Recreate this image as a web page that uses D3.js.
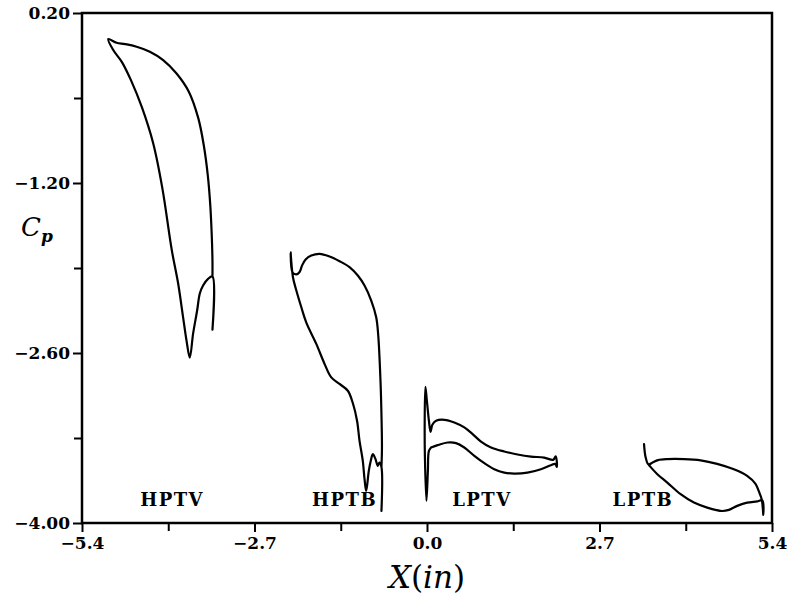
<!DOCTYPE html>
<html>
<head>
<meta charset="utf-8">
<script src="https://cdn.jsdelivr.net/npm/d3@7"></script>
<style>
  body { margin: 0; background: #fff; }
  svg { display: block; }
</style>
</head>
<body>
<svg id="chart" width="791" height="600"></svg>
<script>
// Surface pressure coefficient around each blade row, traced as one closed contour (x in inches, Cp)
const hptvX  = [-3.358,-3.358,-3.427,-3.505,-3.556,-3.598,-3.661,-3.713,-3.764,-3.817,-3.895,-3.994,-4.142,-4.286,-4.463,-4.634,-4.775,-4.911,-4.989,-4.858,-4.728,-4.545,-4.338,-4.130,-3.920,-3.728,-3.580,-3.494,-3.431,-3.392,-3.369,-3.358,-3.358];
const hptvCp = [-2.407,-1.970,-1.989,-2.044,-2.110,-2.250,-2.440,-2.638,-2.498,-2.308,-2.028,-1.755,-1.244,-0.873,-0.576,-0.353,-0.204,-0.105,-0.015,-0.045,-0.056,-0.078,-0.119,-0.188,-0.298,-0.448,-0.666,-0.889,-1.137,-1.384,-1.632,-1.838,-1.970];

const hptbX  = [-0.713,-0.713,-0.744,-0.770,-0.806,-0.848,-0.880,-0.911,-0.952,-0.978,-1.005,-1.056,-1.095,-1.158,-1.239,-1.369,-1.498,-1.603,-1.733,-1.889,-1.967,-2.045,-2.098,-2.134,-2.103,-2.045,-1.994,-1.955,-1.900,-1.811,-1.681,-1.525,-1.369,-1.213,-1.083,-0.978,-0.873,-0.795,-0.763,-0.728,-0.713,-0.705,-0.713];
const hptbCp = [-3.901,-3.538,-3.502,-3.529,-3.474,-3.433,-3.488,-3.571,-3.736,-3.637,-3.488,-3.323,-3.158,-3.018,-2.911,-2.855,-2.801,-2.690,-2.525,-2.350,-2.223,-2.085,-1.976,-1.772,-1.937,-1.953,-1.933,-1.879,-1.830,-1.797,-1.783,-1.805,-1.844,-1.893,-1.962,-2.044,-2.168,-2.306,-2.457,-2.828,-3.103,-3.378,-3.538];

const lptvX  = [0.064,0.167,0.323,0.455,0.584,0.741,0.897,1.053,1.209,1.366,1.573,1.783,1.939,2.006,2.033,2.014,1.975,1.834,1.627,1.417,1.209,1.002,0.845,0.714,0.584,0.428,0.272,0.142,0.084,0.056,0.030,-0.002,-0.025,-0.036,-0.033,-0.009,0.014,0.030,0.064];
const lptvCp = [-3.378,-3.359,-3.337,-3.342,-3.378,-3.447,-3.507,-3.557,-3.585,-3.593,-3.585,-3.557,-3.524,-3.513,-3.538,-3.451,-3.480,-3.461,-3.453,-3.436,-3.411,-3.378,-3.329,-3.268,-3.213,-3.172,-3.150,-3.158,-3.191,-3.249,-3.158,-2.993,-2.878,-3.158,-3.447,-3.818,-3.571,-3.406,-3.378];

const lptbX  = [3.397,3.423,3.467,3.538,3.616,3.761,4.022,4.283,4.542,4.803,5.011,5.142,5.209,5.241,5.264,5.248,5.167,5.011,4.855,4.725,4.620,4.386,4.178,3.970,3.761,3.605,3.498,3.467];
const lptbCp = [-3.350,-3.461,-3.517,-3.500,-3.482,-3.474,-3.474,-3.484,-3.513,-3.558,-3.612,-3.678,-3.760,-3.810,-3.934,-3.814,-3.822,-3.832,-3.859,-3.892,-3.901,-3.873,-3.832,-3.763,-3.667,-3.598,-3.538,-3.517];

// Blade row names and where each name sits (x in inches, Cp of the baseline)
const bladeNames  = ["HPTV", "HPTB", "LPTV", "LPTB"];
const bladeLabelX = [-3.99, -1.29, 0.86, 3.38];
const bladeLabelCp = -3.86;

// Axis ticks
const xTickValues = [-5.4, -2.7, 0.0, 2.7, 5.4];
const xTickLabels = ["\u22125.4", "\u22122.7", "0.0", "2.7", "5.4"];
const xMinorTicks = [-4.05, -1.35, 1.35, 4.05];
const yTickValues = [0.2, -1.2, -2.6, -4.0];
const yTickLabels = ["0.20", "\u22121.20", "\u22122.60", "\u22124.00"];
const yMinorTicks = [-0.5, -1.9, -3.3];

const svg = d3.select("#chart");
const x = d3.scaleLinear().domain([-5.4, 5.4]).range([82, 772]);
const y = d3.scaleLinear().domain([-4.0, 0.2]).range([523, 13]);

const serif = "'DejaVu Serif', serif";

// Minor ticks (unlabelled)
svg.append("g")
  .attr("transform", `translate(0,${y(-4.0)})`)
  .call(d3.axisBottom(x).tickValues(xMinorTicks).tickSize(8).tickFormat(""))
  .call(g => g.select(".domain").remove())
  .selectAll("line").attr("stroke", "#000").attr("stroke-width", 2);
svg.append("g")
  .attr("transform", `translate(${x(-5.4)},0)`)
  .call(d3.axisLeft(y).tickValues(yMinorTicks).tickSize(8).tickFormat(""))
  .call(g => g.select(".domain").remove())
  .selectAll("line").attr("stroke", "#000").attr("stroke-width", 2);

// Major ticks with labels
const xAxis = svg.append("g")
  .attr("transform", `translate(0,${y(-4.0)})`)
  .call(d3.axisBottom(x).tickValues(xTickValues).tickSize(9).tickPadding(5)
        .tickFormat((d, i) => xTickLabels[i]));
xAxis.select(".domain").remove();
xAxis.selectAll("line").attr("stroke", "#000").attr("stroke-width", 2);
xAxis.selectAll("text")
  .attr("fill", "#000")
  .style("font-family", serif).style("font-weight", "bold").style("font-size", "17px");

const yAxis = svg.append("g")
  .attr("transform", `translate(${x(-5.4)},0)`)
  .call(d3.axisLeft(y).tickValues(yTickValues).tickSize(9).tickPadding(3)
        .tickFormat((d, i) => yTickLabels[i]));
yAxis.select(".domain").remove();
yAxis.selectAll("line").attr("stroke", "#000").attr("stroke-width", 2);
yAxis.selectAll("text")
  .attr("fill", "#000")
  .style("font-family", serif).style("font-weight", "bold").style("font-size", "17px");

// Plot frame
svg.append("rect")
  .attr("x", x(-5.4)).attr("y", y(0.2))
  .attr("width", x(5.4) - x(-5.4)).attr("height", y(-4.0) - y(0.2))
  .attr("fill", "none").attr("stroke", "#000").attr("stroke-width", 2.5);

// Cp contours
const blades = [
  { xs: hptvX, cps: hptvCp },
  { xs: hptbX, cps: hptbCp },
  { xs: lptvX, cps: lptvCp },
  { xs: lptbX, cps: lptbCp }
];
const line = d3.line()
  .x(d => x(d[0]))
  .y(d => y(d[1]))
  .curve(d3.curveCatmullRom.alpha(0.5));

svg.append("g").selectAll("path")
  .data(blades)
  .join("path")
  .attr("d", b => line(d3.zip(b.xs, b.cps)))
  .attr("fill", "none")
  .attr("stroke", "#000")
  .attr("stroke-width", 2.2)
  .attr("stroke-linejoin", "round")
  .attr("stroke-linecap", "round");

// Blade row names
svg.append("g").selectAll("text")
  .data(bladeNames)
  .join("text")
  .attr("x", (d, i) => x(bladeLabelX[i]))
  .attr("y", y(bladeLabelCp))
  .attr("text-anchor", "middle")
  .attr("fill", "#000")
  .style("font-family", serif)
  .style("font-weight", "bold")
  .style("font-size", "18px")
  .style("letter-spacing", "1.5px")
  .text(d => d);

// Axis titles
const cp = svg.append("text")
  .attr("x", 21).attr("y", 236)
  .style("font-family", serif)
  .style("font-style", "italic")
  .style("font-size", "26px");
cp.append("tspan").text("C");
cp.append("tspan").attr("dy", 6).style("font-size", "17px").style("font-weight", "bold").text("p");

const xt = svg.append("text")
  .attr("x", 427).attr("y", 588)
  .attr("text-anchor", "middle")
  .style("font-family", serif)
  .style("font-size", "31px");
xt.append("tspan").style("font-style", "italic").text("X");
xt.append("tspan").text("(");
xt.append("tspan").style("font-style", "italic").text("in");
xt.append("tspan").text(")");
</script>
</body>
</html>
